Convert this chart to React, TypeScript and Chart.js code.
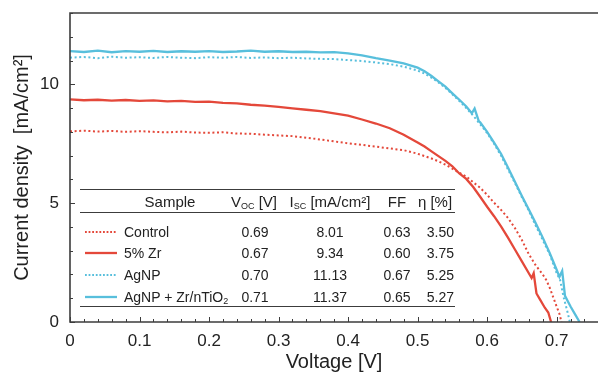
import React, { useEffect, useRef } from "react";
import { Chart, registerables } from "chart.js";

Chart.register(...registerables);

const RED = "#e4483a";
const BLUE = "#58bfdc";
const AXIS = "#3c3c3c";
const TEXT = "#222222";
const FONT = '"Liberation Sans", Arial, Helvetica, sans-serif';

// axis ranges and ticks
const xMin = 0;
const xMax = 0.7595;
const yMin = 0;
const yMax = 13;
const xMinorStep = 0.02;
const yMinorStep = 1;
const xTickValues = [0, 0.1, 0.2, 0.3, 0.4, 0.5, 0.6, 0.7];
const xTickLabels = ["0", "0.1", "0.2", "0.3", "0.4", "0.5", "0.6", "0.7"];
const yTickValues = [0, 5, 10];
const yTickLabels = ["0", "5", "10"];
const xTitle = "Voltage [V]";
const yTitle = "Current density  [mA/cm²]";

// series: Control (dotted red)
const controlV = [
  0, 0.02, 0.04, 0.06, 0.08, 0.1, 0.12, 0.14, 0.16, 0.18, 0.2, 0.22, 0.24, 0.26, 0.28, 0.3, 0.32, 0.34, 0.36, 0.38,
  0.4, 0.42, 0.44, 0.46, 0.48, 0.5, 0.51, 0.52, 0.53, 0.54, 0.55, 0.56, 0.57, 0.58, 0.59, 0.6, 0.61, 0.62, 0.63,
  0.64, 0.65, 0.66, 0.67, 0.68, 0.685, 0.69, 0.695, 0.7, 0.704, 0.707,
];
const controlJ = [
  8.02, 8.05, 8.01, 8.04, 8.0, 8.03, 8.0, 7.98, 8.01, 7.97, 7.96, 7.98, 7.93, 7.92, 7.88, 7.85, 7.82, 7.75, 7.68, 7.6,
  7.52, 7.45, 7.38, 7.3, 7.23, 7.08, 6.98, 6.88, 6.76, 6.62, 6.45, 6.28, 6.12, 5.88, 5.65, 5.35, 5.02, 4.72, 4.38,
  3.95, 3.45, 2.85, 2.38, 2.0, 1.77, 1.45, 1.05, 0.65, 0.35, 0,
];

// series: 5% Zr (solid red)
const zrV = [
  0, 0.02, 0.04, 0.06, 0.08, 0.1, 0.12, 0.14, 0.16, 0.18, 0.2, 0.22, 0.24, 0.26, 0.28, 0.3, 0.32, 0.34, 0.36, 0.38,
  0.4, 0.42, 0.44, 0.46, 0.48, 0.5, 0.51, 0.52, 0.53, 0.54, 0.55, 0.56, 0.57, 0.58, 0.59, 0.6, 0.61, 0.62, 0.63,
  0.64, 0.65, 0.66, 0.664, 0.667, 0.671, 0.676, 0.683, 0.688, 0.692,
];
const zrJ = [
  9.37, 9.33, 9.35, 9.31, 9.34, 9.3, 9.32, 9.28, 9.3, 9.26, 9.27, 9.22, 9.2, 9.14, 9.1, 9.05, 8.99, 8.93, 8.87, 8.78,
  8.68, 8.52, 8.35, 8.15, 7.88, 7.55, 7.38, 7.18, 6.98, 6.78, 6.55, 6.25, 6.02, 5.68, 5.27, 4.85, 4.45, 4.02, 3.55,
  3.05, 2.55, 2.05, 1.85, 2.05, 1.2, 0.95, 0.6, 0.4, 0,
];

// series: AgNP (dotted blue)
const agV = [
  0, 0.02, 0.04, 0.06, 0.08, 0.1, 0.12, 0.14, 0.16, 0.18, 0.2, 0.22, 0.24, 0.26, 0.28, 0.3, 0.32, 0.34, 0.36, 0.38,
  0.4, 0.42, 0.44, 0.46, 0.48, 0.5, 0.51, 0.52, 0.53, 0.54, 0.55, 0.56, 0.57, 0.58, 0.59, 0.6, 0.61, 0.62, 0.63,
  0.64, 0.65, 0.66, 0.67, 0.68, 0.69, 0.7, 0.705, 0.71, 0.716, 0.719,
];
const agJ = [
  11.12, 11.15, 11.1, 11.16, 11.12, 11.14, 11.11, 11.15, 11.12, 11.1, 11.14, 11.12, 11.15, 11.11, 11.13, 11.1, 11.12,
  11.09, 11.07, 11.06, 11.02, 10.98, 10.92, 10.85, 10.74, 10.58, 10.45, 10.28, 10.08, 9.85, 9.58, 9.3, 9.0, 8.68,
  8.32, 7.95, 7.5, 7.0, 6.42, 5.85, 5.25, 4.68, 4.05, 3.45, 2.85, 2.05, 1.77, 1.05, 0.38, 0,
];

// series: AgNP + Zr/nTiO2 (solid blue)
const agZrV = [
  0, 0.02, 0.04, 0.06, 0.08, 0.1, 0.12, 0.14, 0.16, 0.18, 0.2, 0.22, 0.24, 0.26, 0.28, 0.3, 0.32, 0.34, 0.36, 0.38,
  0.4, 0.42, 0.44, 0.46, 0.48, 0.5, 0.51, 0.52, 0.53, 0.54, 0.55, 0.56, 0.57, 0.578, 0.582, 0.588, 0.59, 0.6, 0.61,
  0.62, 0.63, 0.64, 0.65, 0.66, 0.67, 0.68, 0.69, 0.7, 0.704, 0.708, 0.712, 0.72, 0.727, 0.733,
];
const agZrJ = [
  11.4, 11.36, 11.42, 11.35, 11.4, 11.37, 11.41, 11.36, 11.39, 11.37, 11.4, 11.36, 11.38, 11.42, 11.37, 11.39, 11.36,
  11.37, 11.34, 11.35, 11.3, 11.22, 11.1, 11.0, 10.88, 10.7, 10.55, 10.35, 10.12, 9.9, 9.62, 9.35, 9.07, 8.78, 8.98,
  8.45, 8.4, 8.0, 7.55, 7.08, 6.5, 5.9, 5.3, 4.73, 4.15, 3.55, 2.9, 2.2, 1.9, 2.15, 1.1, 0.65, 0.3, 0,
];

// table
const tableSamples = ["Control", "5% Zr", "AgNP", "AgNP + Zr/nTiO"];
const tableVoc = ["0.69", "0.67", "0.70", "0.71"];
const tableIsc = ["8.01", "9.34", "11.13", "11.37"];
const tableFF = ["0.63", "0.60", "0.67", "0.65"];
const tableEta = ["3.50", "3.75", "5.25", "5.27"];
const tableColors = [RED, RED, BLUE, BLUE];
const tableDotted = [true, false, true, false];

function pts(v: number[], j: number[]) {
  return v.map((x, i) => ({ x, y: j[i] }));
}

const framePlugin = {
  id: "frameTicks",
  afterDatasetsDraw(chart: any) {
    const { ctx, chartArea, scales } = chart;
    const { left, top, right, bottom } = chartArea;
    const xs = scales.x;
    const ys = scales.y;
    ctx.save();
    ctx.strokeStyle = AXIS;
    ctx.lineWidth = 1;
    ctx.beginPath();
    for (let i = 0; ; i++) {
      const v = xMin + i * xMinorStep;
      if (v > xMax + 1e-9) break;
      const px = Math.round(xs.getPixelForValue(v)) + 0.5;
      const len = i % 5 === 0 ? 5 : 3;
      ctx.moveTo(px, bottom);
      ctx.lineTo(px, bottom - len);
    }
    for (let i = 0; ; i++) {
      const v = yMin + i * yMinorStep;
      if (v > yMax + 1e-9) break;
      const py = Math.round(ys.getPixelForValue(v)) + 0.5;
      const len = i % 5 === 0 ? 5 : 3;
      ctx.moveTo(left, py);
      ctx.lineTo(left + len, py);
    }
    ctx.stroke();
    ctx.lineWidth = 1.6;
    ctx.beginPath();
    ctx.moveTo(right + 5, top);
    ctx.lineTo(left, top);
    ctx.lineTo(left, bottom);
    ctx.lineTo(right + 5, bottom);
    ctx.stroke();
    ctx.restore();
  },
};

function Txt(props: { x: number; y: number; align?: string; size?: number; children: any }) {
  const { x, y, align = "left", size = 14, children } = props;
  const tx = align === "center" ? "-50%" : align === "right" ? "-100%" : "0";
  return (
    <div
      style={{
        position: "absolute",
        left: x,
        top: y,
        transform: `translate(${tx}, -50%)`,
        whiteSpace: "nowrap",
        fontSize: size,
        lineHeight: "1.15",
        color: TEXT,
        fontFamily: FONT,
      }}
    >
      {children}
    </div>
  );
}

const subStyle: any = { fontSize: 9, verticalAlign: "-2px", lineHeight: 0 };

export default function App() {
  const ref = useRef<HTMLCanvasElement | null>(null);

  useEffect(() => {
    if (!ref.current) return;
    const chart = new Chart(ref.current, {
      type: "line",
      data: {
        datasets: [
          {
            label: tableSamples[0],
            data: pts(controlV, controlJ),
            borderColor: RED,
            borderWidth: 2,
            borderDash: [2, 2.6],
            pointRadius: 0,
            tension: 0,
            order: 2,
          },
          {
            label: tableSamples[1],
            data: pts(zrV, zrJ),
            borderColor: RED,
            borderWidth: 2.3,
            pointRadius: 0,
            tension: 0,
            order: 1,
          },
          {
            label: tableSamples[2],
            data: pts(agV, agJ),
            borderColor: BLUE,
            borderWidth: 2,
            borderDash: [2, 2.6],
            pointRadius: 0,
            tension: 0,
            order: 2,
          },
          {
            label: tableSamples[3],
            data: pts(agZrV, agZrJ),
            borderColor: BLUE,
            borderWidth: 2.3,
            pointRadius: 0,
            tension: 0,
            order: 1,
          },
        ],
      },
      options: {
        animation: false,
        responsive: false,
        devicePixelRatio: 1,
        layout: { padding: { top: 13, left: 0, right: 0, bottom: 0 } },
        plugins: { legend: { display: false }, tooltip: { enabled: false } },
        scales: {
          x: {
            type: "linear",
            min: xMin,
            max: xMax,
            grid: { display: false, drawTicks: false },
            border: { display: false },
            afterBuildTicks: (s: any) => {
              s.ticks = xTickValues.map((value) => ({ value }));
            },
            afterFit: (s: any) => {
              s.height = 57;
              s.paddingLeft = 0;
              s.paddingRight = 0;
            },
            ticks: {
              autoSkip: false,
              maxRotation: 0,
              padding: 9,
              color: TEXT,
              font: { family: FONT, size: 17 },
              callback: (_v: any, i: number) => xTickLabels[i],
            },
            title: {
              display: true,
              text: xTitle,
              color: TEXT,
              font: { family: FONT, size: 20 },
              padding: { top: 0, bottom: 5 },
            },
          },
          y: {
            type: "linear",
            min: yMin,
            max: yMax,
            grid: { display: false, drawTicks: false },
            border: { display: false },
            afterBuildTicks: (s: any) => {
              s.ticks = yTickValues.map((value) => ({ value }));
            },
            afterFit: (s: any) => {
              s.width = 70;
              s.paddingTop = 0;
              s.paddingBottom = 0;
            },
            ticks: {
              autoSkip: false,
              padding: 11,
              color: TEXT,
              font: { family: FONT, size: 17 },
              callback: (_v: any, i: number) => yTickLabels[i],
            },
            title: {
              display: true,
              text: yTitle,
              color: TEXT,
              font: { family: FONT, size: 20 },
              padding: { top: 10, bottom: 0 },
            },
          },
        },
      },
      plugins: [framePlugin],
    } as any);
    return () => chart.destroy();
  }, []);

  const rowY = [232, 253, 275, 297];
  const ruleStyle = (top: number): any => ({
    position: "absolute",
    left: 80,
    top,
    width: 375,
    height: 0,
    borderTop: `1.6px solid ${AXIS}`,
  });

  return (
    <div style={{ position: "absolute", left: 0, top: 0, width: 598, height: 379, background: "#fff" }}>
      <canvas ref={ref} width={598} height={379} style={{ display: "block", width: 598, height: 379 }} />
      <div style={ruleStyle(189)} />
      <div style={ruleStyle(212)} />
      <div style={ruleStyle(306)} />
      <Txt x={170} y={202} align="center" size={15}>Sample</Txt>
      <Txt x={254} y={202} align="center" size={15}>
        V<span style={subStyle}>OC</span> [V]
      </Txt>
      <Txt x={330} y={202} align="center" size={15}>
        I<span style={subStyle}>SC</span> [mA/cm²]
      </Txt>
      <Txt x={397} y={202} align="center" size={15}>FF</Txt>
      <Txt x={435} y={202} align="center" size={15}>η [%]</Txt>
      {tableSamples.map((name, i) => (
        <React.Fragment key={name}>
          <svg
            width={34}
            height={6}
            style={{ position: "absolute", left: 84, top: rowY[i] - 3 }}
          >
            <line
              x1={1}
              y1={3}
              x2={33}
              y2={3}
              stroke={tableColors[i]}
              strokeWidth={tableDotted[i] ? 1.8 : 2.3}
              strokeDasharray={tableDotted[i] ? "1.8 1.8" : undefined}
            />
          </svg>
          <Txt x={124} y={rowY[i]}>
            {name}
            {i === 3 ? <span style={subStyle}>2</span> : null}
          </Txt>
          <Txt x={255} y={rowY[i]} align="center">{tableVoc[i]}</Txt>
          <Txt x={330} y={rowY[i]} align="center">{tableIsc[i]}</Txt>
          <Txt x={397} y={rowY[i]} align="center">{tableFF[i]}</Txt>
          <Txt x={454} y={rowY[i]} align="right">{tableEta[i]}</Txt>
        </React.Fragment>
      ))}
    </div>
  );
}
